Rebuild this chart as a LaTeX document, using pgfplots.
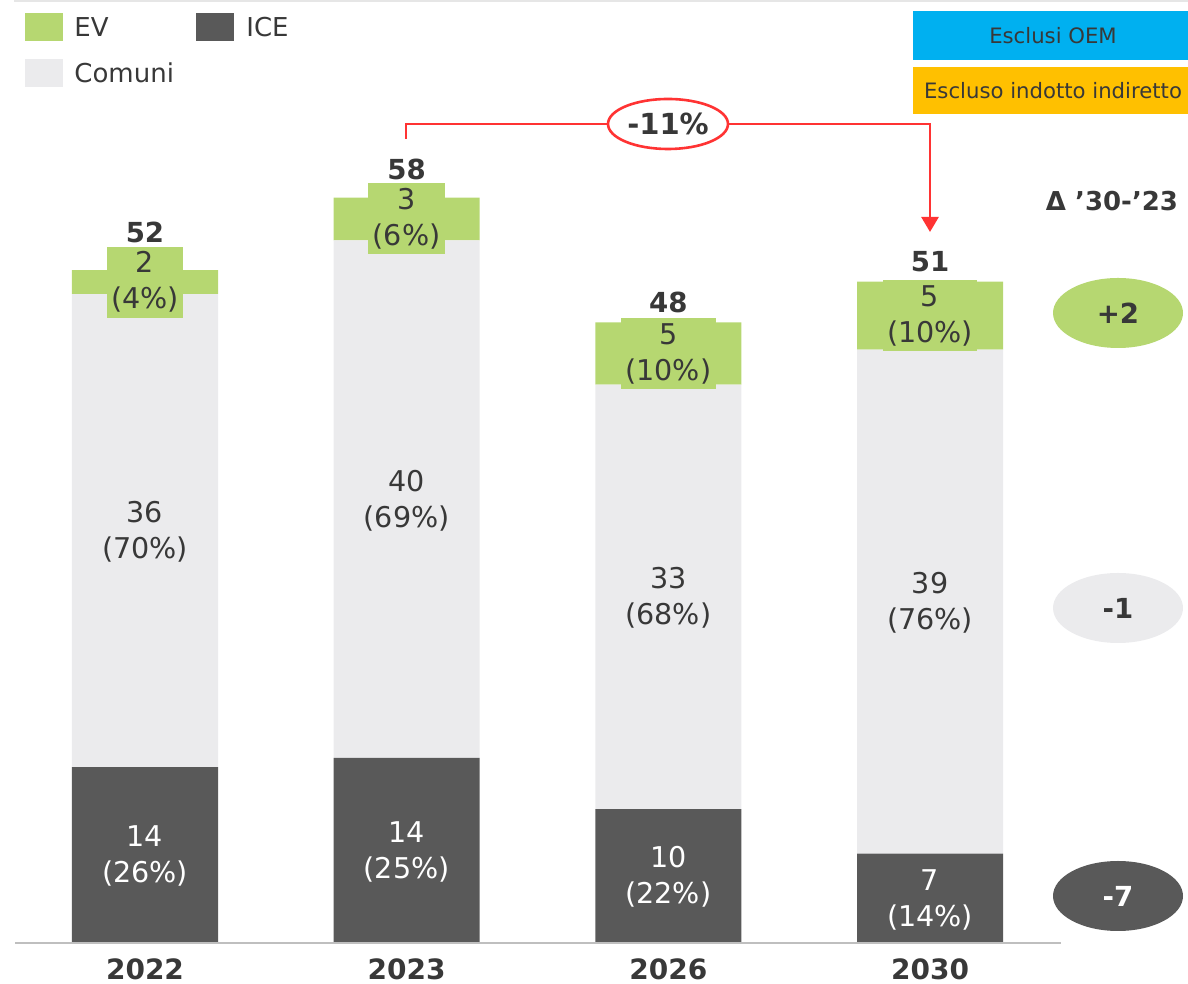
\documentclass[border=0pt]{standalone}
\usepackage{pgfplots}
\pgfplotsset{compat=1.18}
\usepackage{fontspec}
\setmainfont{DejaVu Sans}
\usetikzlibrary{arrows.meta}
\definecolor{evc}{RGB}{182,215,113}
\definecolor{icec}{RGB}{89,89,89}
\definecolor{comc}{RGB}{235,235,237}
\definecolor{txt}{RGB}{56,56,56}
\definecolor{blu}{RGB}{0,176,240}
\definecolor{ora}{RGB}{255,192,0}
\definecolor{redc}{RGB}{255,51,51}
\definecolor{basec}{RGB}{191,191,191}
\definecolor{topc}{RGB}{230,230,230}
\newcommand{\lab}{\fontsize{14.3}{18}\selectfont}
\newcommand{\tot}{\fontsize{13.8}{16}\selectfont\bfseries}
\begin{document}
\begin{tikzpicture}
\begin{axis}[
  at={(0pt,0pt)}, anchor=south west,
  width=594pt, height=492pt, scale only axis,
  xmin=-0.5541, xmax=3.9859, ymin=-3.168, ymax=72.87,
  ybar stacked, bar width=0.558,
  axis line style={draw=none},
  xtick={0,1,2,3},
  xticklabels={\textbf{2022},\textbf{2023},\textbf{2026},\textbf{2030}},
  xtick style={draw=none}, ytick=\empty,
  xticklabel style={anchor=center, inner sep=0pt, yshift=7.5pt, font=\fontsize{14}{16}\selectfont, text=txt},
  clip=false,
]
% ICE
\addplot[fill=icec, draw=none] coordinates {(0,13.6) (1,14.3) (2,10.35) (3,6.9)};
% Comuni
\addplot[fill=comc, draw=none] coordinates {(0,36.55) (1,40.0) (2,32.8) (3,38.95)};
% EV
\addplot[fill=evc, draw=none] coordinates {(0,1.85) (1,3.3) (2,4.8) (3,5.25)};

\coordinate (SW) at (rel axis cs:0,0);
\coordinate (NE) at (rel axis cs:1,1);
% label anchors (segment midpoints) and totals
\coordinate (i0) at (axis cs:0,6.7);
\coordinate (i1) at (axis cs:1,7.05);
\coordinate (i2) at (axis cs:2,5.1);
\coordinate (i3) at (axis cs:3,3.35);
\coordinate (c0) at (axis cs:0,31.8);
\coordinate (c1) at (axis cs:1,34.2);
\coordinate (c2) at (axis cs:2,26.65);
\coordinate (c3) at (axis cs:3,26.3);
\coordinate (e0) at (axis cs:0,51.075);
\coordinate (e1) at (axis cs:1,55.95);
\coordinate (e2) at (axis cs:2,45.55);
\coordinate (e3) at (axis cs:3,48.475);
\coordinate (t0) at (axis cs:0,54.9);
\coordinate (t1) at (axis cs:1,59.8);
\coordinate (t2) at (axis cs:2,49.46);
\coordinate (t3) at (axis cs:3,52.65);
\end{axis}

% ---- annotations on top (pixel grid of the 1188x984 reference) ----
\begin{scope}[x=0.5pt, y=-0.5pt, shift={(0pt,492pt)}]
\draw[basec, line width=1pt] (15,943.5) -- (1061,943.5);
\draw[topc, line width=0.8pt] (14,1) -- (1188,1);

% legend
\fill[evc] (25,13) rectangle (63,41);
\node[anchor=west, inner sep=0pt, text=txt, font=\fontsize{13}{15}\selectfont] at (74,27) {EV};
\fill[icec] (196,13) rectangle (234,41);
\node[anchor=west, inner sep=0pt, text=txt, font=\fontsize{13}{15}\selectfont] at (246,27) {ICE};
\fill[comc] (25,59) rectangle (63,87);
\node[anchor=west, inner sep=0pt, text=txt, font=\fontsize{13}{15}\selectfont] at (74,73) {Comuni};

% top-right boxes
\fill[blu] (913,11) rectangle (1188,60);
\node[text=txt, font=\fontsize{10.6}{12}\selectfont] at (1053,36) {Esclusi OEM};
\fill[ora] (913,67) rectangle (1188,114);
\node[text=txt, font=\fontsize{10.6}{12}\selectfont] at (1053,91) {Escluso indotto indiretto};

% red connector
\draw[redc, line width=1.3pt, -{Triangle[width=8.5pt,length=7.5pt]}] (406,139) -- (406,124) -- (930,124) -- (930,232);
\draw[redc, line width=1.3pt, fill=white] (668,124) ellipse [x radius=30pt, y radius=12.5pt];
\node[text=txt, font=\fontsize{14.5}{16}\selectfont\bfseries] at (668,124) {-11\%};

% delta header and ellipses
\node[text=txt, font=\fontsize{13}{15}\selectfont\bfseries] at (1112,201) {Δ ’30-’23};
\fill[evc] (1118,313) ellipse [x radius=32.5pt, y radius=17.5pt];
\node[text=txt, font=\tot] at (1118,313) {+2};
\fill[comc] (1118,608) ellipse [x radius=32.5pt, y radius=17.5pt];
\node[text=txt, font=\tot] at (1118,608) {-1};
\fill[icec] (1118,896) ellipse [x radius=32.5pt, y radius=17.5pt];
\node[text=white, font=\tot] at (1118,896) {-7};
\end{scope}

% bar labels
\node[text=white, align=center, font=\lab] at (i0) {14\\(26\%)};
\node[text=white, align=center, font=\lab] at (i1) {14\\(25\%)};
\node[text=white, align=center, font=\lab] at (i2) {10\\(22\%)};
\node[text=white, align=center, font=\lab] at (i3) {7\\(14\%)};
\node[text=txt, align=center, font=\lab] at (c0) {36\\(70\%)};
\node[text=txt, align=center, font=\lab] at (c1) {40\\(69\%)};
\node[text=txt, align=center, font=\lab] at (c2) {33\\(68\%)};
\node[text=txt, align=center, font=\lab] at (c3) {39\\(76\%)};
\node[text=txt, align=center, font=\lab, fill=evc, inner xsep=2.2pt, inner ysep=2.5pt] at (e0) {2\\(4\%)};
\node[text=txt, align=center, font=\lab, fill=evc, inner xsep=2.2pt, inner ysep=2.5pt] at (e1) {3\\(6\%)};
\node[text=txt, align=center, font=\lab, fill=evc, inner xsep=2.2pt, inner ysep=2.5pt] at (e2) {5\\(10\%)};
\node[text=txt, align=center, font=\lab, fill=evc, inner xsep=2.2pt, inner ysep=2.5pt] at (e3) {5\\(10\%)};
\node[text=txt, font=\tot] at (t0) {52};
\node[text=txt, font=\tot] at (t1) {58};
\node[text=txt, font=\tot] at (t2) {48};
\node[text=txt, font=\tot] at (t3) {51};

\pgfresetboundingbox
\path[use as bounding box] (SW) rectangle (NE);
\end{tikzpicture}
\end{document}
